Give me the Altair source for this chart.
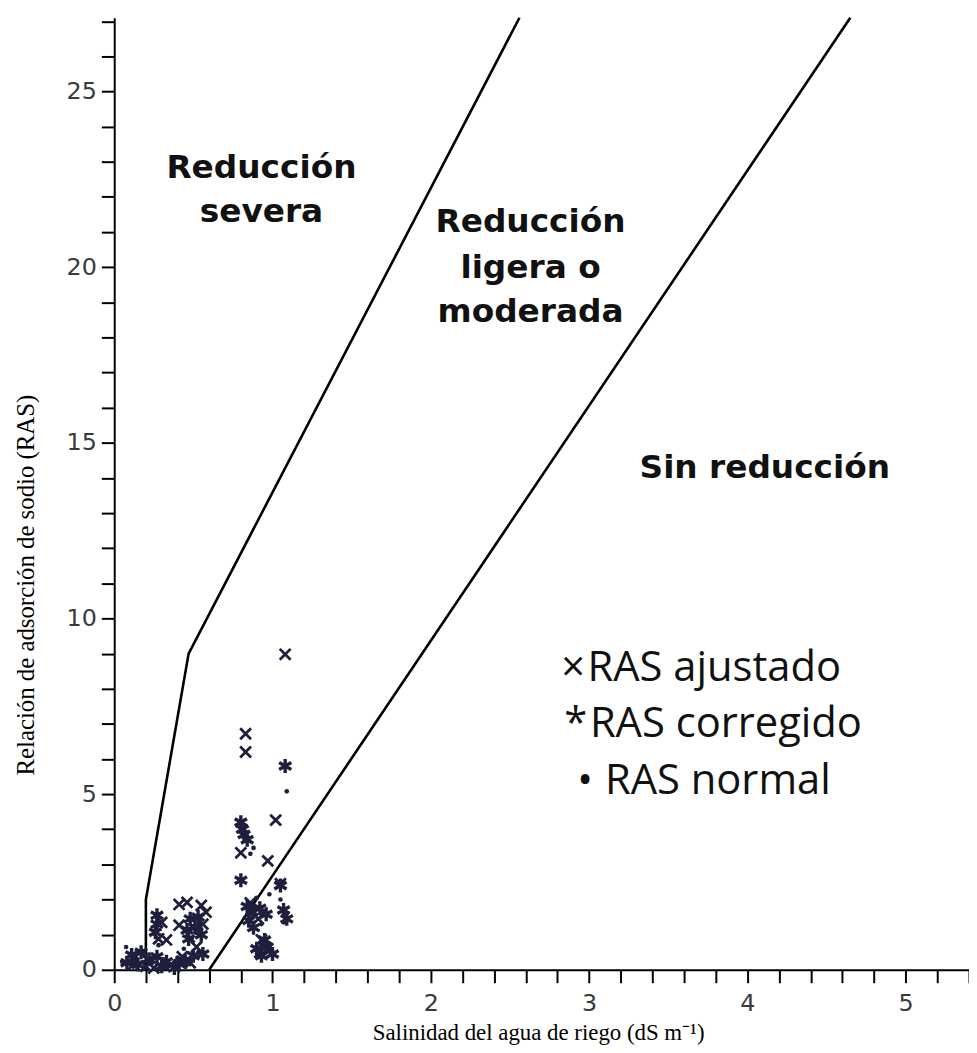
import altair as alt
import pandas as pd

# ---------------- data ----------------
X_DOMAIN = [0, 5.4]
Y_DOMAIN = [0, 27.1]

# boundary lines between zones
b1_x = [0.2, 0.2, 0.47, 2.56]
b1_y = [0.0, 2.0, 9.0, 27.1]
b2_x = [0.6, 4.65]
b2_y = [0.0, 27.1]

# RAS ajustado (x marks)
adj_x = [1.08, 0.83, 0.83, 1.02, 0.80, 0.97, 1.05, 0.93, 0.91, 0.92, 0.97, 0.86,
         0.41, 0.46, 0.55, 0.41, 0.58, 0.56, 0.52, 0.43, 0.28, 0.33, 0.30, 0.12,
         0.20, 0.36, 0.48, 0.25]
adj_y = [8.98, 6.72, 6.20, 4.26, 3.33, 3.10, 2.45, 0.85, 1.45, 0.50, 0.60, 1.90,
         1.86, 1.92, 1.83, 1.27, 1.64, 1.30, 0.65, 0.37, 0.88, 0.85, 1.35, 0.15,
         0.10, 0.15, 0.20, 0.05]

# RAS corregido (asterisks)
cor_x = [1.08, 0.80, 0.81, 0.82, 0.84, 0.80, 1.05, 0.84, 0.87, 0.92, 0.85, 0.96,
         1.07, 1.09, 0.88, 0.95, 0.90, 0.96, 1.00, 0.93,
         0.27, 0.27, 0.26, 0.46, 0.51, 0.53, 0.47, 0.56, 0.11, 0.17, 0.22, 0.27,
         0.33, 0.41, 0.45, 0.08, 0.15, 0.30, 0.38, 0.50, 0.55, 0.48]
cor_y = [5.80, 4.20, 4.00, 3.85, 3.70, 2.55, 2.40, 1.80, 1.65, 1.75, 1.40, 1.58,
         1.70, 1.45, 1.20, 0.85, 0.60, 0.65, 0.45, 0.40,
         1.55, 1.30, 1.07, 1.13, 1.21, 1.50, 0.88, 0.45, 0.42, 0.50, 0.30, 0.37,
         0.23, 0.17, 0.23, 0.20, 0.15, 0.10, 0.05, 0.40, 1.00, 1.45]

# RAS normal (dots)
nor_x = [1.09, 0.88, 0.98, 1.05, 0.93, 0.86, 0.90, 1.07,
         0.075, 0.05, 0.13, 0.19, 0.24, 0.31, 0.40, 0.49, 0.52, 0.55, 0.28, 0.44]
nor_y = [5.08, 3.47, 2.15, 2.00, 1.30, 3.30, 2.05, 1.35,
         0.65, 0.23, 0.30, 0.45, 0.20, 0.30, 0.35, 0.90, 1.05, 1.15, 0.70, 0.60]

# zone labels
zone_text = ["Reducción", "severa", "Reducción", "ligera o", "moderada", "Sin reducción"]
zone_x = [0.93, 0.93, 2.63, 2.63, 2.63, 4.11]
zone_y = [22.55, 21.28, 21.0, 19.68, 18.44, 14.0]

# legend
leg_sym = ["×", "*", "•"]
leg_sym_x = [2.9, 2.915, 2.975]
leg_text = ["RAS ajustado", "RAS corregido", "RAS normal"]
leg_text_x = [2.99, 3.005, 3.10]
leg_y = [8.22, 6.64, 5.0]

x_ticks = [round(i * 0.2, 1) for i in range(28)]
y_ticks = list(range(28))

X_TITLE = "Salinidad del agua de riego (dS m⁻¹)"
Y_TITLE = "Relación de adsorción de sodio (RAS)"

INK = "#1f1f3d"

# ---------------- frames ----------------
lines_df = pd.DataFrame({
    "x": b1_x + b2_x,
    "y": b1_y + b2_y,
    "seg": ["a"] * len(b1_x) + ["b"] * len(b2_x),
    "idx": list(range(len(b1_x))) + list(range(len(b2_x))),
})
adj_df = pd.DataFrame({"x": adj_x, "y": adj_y})
cor_df = pd.DataFrame({"x": cor_x, "y": cor_y})
nor_df = pd.DataFrame({"x": nor_x, "y": nor_y})
zone_df = pd.DataFrame({"x": zone_x, "y": zone_y, "t": zone_text})
sym_df = pd.DataFrame({"x": leg_sym_x, "y": leg_y, "t": leg_sym})
legt_df = pd.DataFrame({"x": leg_text_x, "y": leg_y, "t": leg_text})

common_axis = dict(
    grid=False, domainColor="black", domainWidth=2, tickColor="black",
    tickWidth=2, tickSize=13, labelFont="DejaVu Sans", labelFontSize=24,
    labelColor="#3a3a3a", labelOverlap=False, labelFlush=False,
    titleFont="Liberation Serif", titleFontWeight="normal",
    titleColor="black",
)

x_axis = alt.Axis(
    values=x_ticks, title=X_TITLE, labelPadding=9, titleFontSize=23,
    labelExpr="abs(datum.value - round(datum.value)) < 0.01 ? format(datum.value, 'd') : ''",
    titleX=427, titleY=70, titleBaseline="alphabetic", **common_axis,
)
y_axis = alt.Axis(
    values=y_ticks, title=Y_TITLE, labelPadding=5, titleFontSize=25,
    labelExpr="datum.value % 5 == 0 ? format(datum.value, 'd') : ''",
    titleX=-89, titleY=571, titleBaseline="middle", **common_axis,
)

xs = alt.Scale(domain=X_DOMAIN, nice=False, zero=False)
ys = alt.Scale(domain=Y_DOMAIN, nice=False, zero=False)

X = alt.X("x:Q", scale=xs, axis=x_axis)
Y = alt.Y("y:Q", scale=ys, axis=y_axis)

lines = alt.Chart(lines_df).mark_line(color="black", strokeWidth=2.6).encode(
    x=X, y=Y, detail="seg:N", order="idx:Q")

X_PATH = "M-1,-1L1,1M-1,1L1,-1"
AST_PATH = "M0,-1L0,1M-0.87,-0.5L0.87,0.5M-0.87,0.5L0.87,-0.5"

adj = alt.Chart(adj_df).mark_point(shape=X_PATH, filled=False, size=120,
                                   strokeWidth=2.8, color=INK, opacity=1).encode(x=X, y=Y)
cor = alt.Chart(cor_df).mark_point(shape=AST_PATH, filled=False, size=200,
                                   strokeWidth=3.4, color=INK, opacity=1).encode(x=X, y=Y)
nor = alt.Chart(nor_df).mark_point(shape="circle", filled=True, size=22,
                                   color=INK, opacity=1).encode(x=X, y=Y)

zones = alt.Chart(zone_df).mark_text(font="DejaVu Sans", fontWeight="bold", fontSize=33,
                                     color="#111111", align="center",
                                     baseline="alphabetic").encode(x=X, y=Y, text="t:N")
syms = alt.Chart(sym_df).mark_text(font="Open Sans", fontSize=42, color="#111111",
                                   align="center", baseline="alphabetic").encode(x=X, y=Y, text="t:N")
legt = alt.Chart(legt_df).mark_text(font="Open Sans", fontSize=42, color="#111111",
                                    align="left", baseline="alphabetic").encode(x=X, y=Y, text="t:N")

chart = alt.layer(lines, adj, cor, nor, zones, syms, legt).properties(
    width=861, height=959,
    autosize=alt.AutoSizeParams(type="none"),
    padding={"left": 107, "top": 6, "right": 0, "bottom": 78},
    background="white",
).configure_view(strokeWidth=0)

chart.save("out.html", embed_options={"renderer": "svg", "actions": False})
